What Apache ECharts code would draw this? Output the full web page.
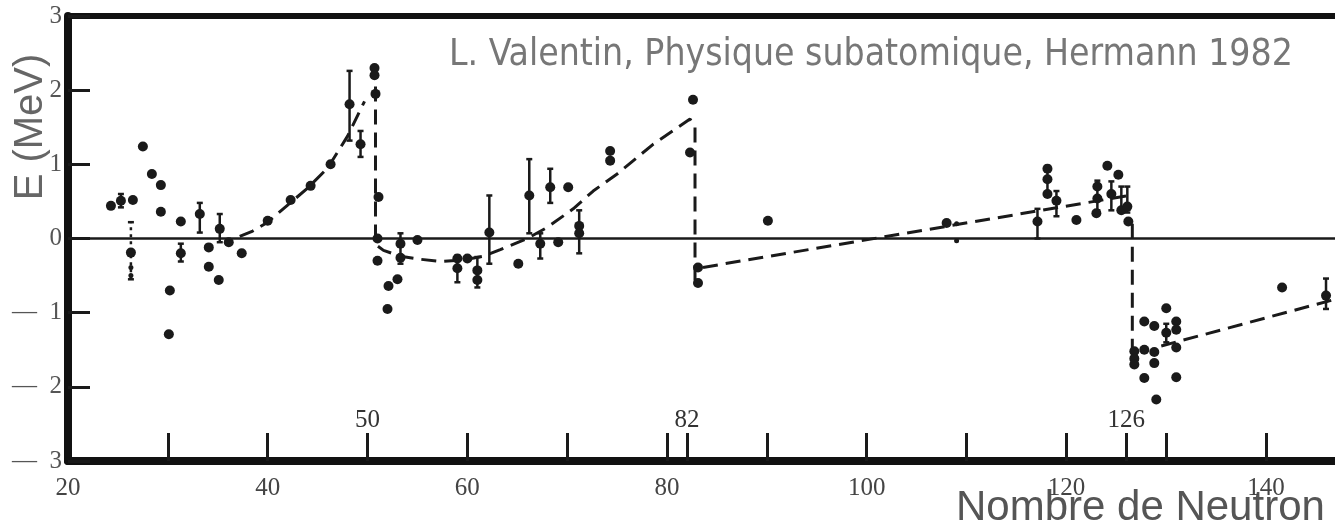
<!DOCTYPE html>
<html><head><meta charset="utf-8">
<script src="https://cdn.jsdelivr.net/npm/echarts@6/dist/echarts.min.js"></script>
<style>html,body{margin:0;padding:0;background:#fff;}#c{width:1335px;height:528px;}</style>
</head><body><div id="c"></div>
<script>
// ---- axis ticks / labels ----
const xTickValues = [30, 40, 50, 60, 70, 80, 82, 90, 100, 110, 120, 126, 130, 140];
const xLabelValues = [20, 40, 60, 80, 100, 120, 140];
const magicLabelValues = [50, 82, 126];
const yTickValues = [-3, -2, -1, 0, 1, 2, 3];

// ---- measured points [N, E (MeV)] ----
const points = [
  [24.3,0.44],[25.3,0.51],[26.5,0.52],[26.3,-0.19],[27.5,1.24],[28.4,0.87],[29.3,0.72],[29.3,0.36],
  [30.2,-0.70],[30.1,-1.29],[31.3,0.23],[31.3,-0.2],[33.2,0.33],[34.1,-0.12],[34.1,-0.38],[35.1,-0.56],
  [35.2,0.13],[36.1,-0.05],[37.4,-0.2],[40,0.24],[42.3,0.52],[44.3,0.71],[46.3,1.0],[48.2,1.81],
  [49.3,1.27],[50.7,2.3],[50.7,2.2],[50.8,1.95],[51.1,0.56],[51,0],[51,-0.3],[53,-0.55],[52.1,-0.64],
  [52,-0.95],[53.3,-0.07],[53.3,-0.26],[55,-0.02],[59,-0.27],[59,-0.4],[60,-0.27],[61,-0.43],[61,-0.56],
  [62.2,0.08],[65.1,-0.34],[66.2,0.58],[67.3,-0.07],[68.3,0.69],[70.1,0.69],[69.1,-0.05],[71.2,0.17],
  [71.2,0.07],[74.3,1.18],[74.3,1.05],[82.6,1.87],[82.3,1.16],[83.1,-0.39],[83.1,-0.6],[90.1,0.24],
  [108,0.21],[117.1,0.23],[118.1,0.94],[118.1,0.8],[118.1,0.6],[119,0.51],[121,0.25],[124.1,0.98],
  [125.2,0.86],[123.1,0.7],[123.1,0.54],[123,0.34],[124.5,0.6],[125.5,0.38],[126.1,0.43],[126.2,0.23],
  [126.8,-1.52],[126.8,-1.62],[126.8,-1.7],[127.8,-1.12],[128.8,-1.18],[127.8,-1.5],[128.8,-1.53],
  [128.8,-1.68],[127.8,-1.88],[129,-2.17],[130,-0.94],[130,-1.27],[131,-1.12],[131,-1.23],[131,-1.47],
  [131,-1.87],[141.6,-0.66],[146,-0.77]
];
const smallPoints = [[26.3,-0.39],[26.3,-0.5],[109,0.2],[109,-0.03]];

// ---- error bars [N, low, high] ----
const errorBars = [
  [25.3,0.42,0.6],[31.3,-0.31,-0.07],[33.2,0.08,0.48],[35.2,-0.05,0.33],[48.2,1.32,2.26],[49.3,1.1,1.45],
  [53.3,-0.34,0.07],[59,-0.59,-0.23],[61,-0.66,-0.25],[62.2,-0.34,0.58],[66.2,0.07,1.07],[67.3,-0.27,0.07],
  [68.3,0.48,0.94],[71.2,-0.2,0.38],[117.1,0,0.4],[118.1,0.58,0.98],[119,0.3,0.64],[123.1,0.38,0.78],
  [124.5,0.38,0.77],[125.5,0.35,0.7],[126.1,0.35,0.7],[126.8,-1.72,-1.5],[130,-1.4,-1.15],[146,-0.95,-0.54]
];
const dottedBars = [[26.3,-0.55,0.22]];

// ---- dashed trend segments [N, E] ----
const trendA = [[37.2,0.03],[38.5,0.1],[40,0.22],[42,0.45],[44,0.68],[46,0.95],[48,1.38],[49.7,1.85]];
const trendB = [[50.8,2.05],[50.8,-0.08],[51.6,-0.16],[53.3,-0.24],[55.3,-0.28],[57.3,-0.31],[59.6,-0.29],
  [61.6,-0.24],[63.3,-0.15],[66,0],[68,0.15],[70.6,0.4],[72.6,0.64],[75,0.87],[78.6,1.27],[82.3,1.61],
  [82.8,1.5],[82.8,-0.62]];
const trendC = [[83.6,-0.39],[126.3,0.58]];
const trendD = [[126.6,0.2],[126.6,-1.62]];
const trendE = [[129.5,-1.45],[146.9,-0.82]];

const INK = '#1a1a1a';
const X_MIN = 20, X_MAX = 146.9;

function barRenderer(dash) {
  return function (params, api) {
    const x = api.value(0), lo = api.value(1), hi = api.value(2);
    const p1 = api.coord([x, lo]), p2 = api.coord([x, hi]);
    const cap = 3;
    const st = { stroke: INK, lineWidth: 2.5, lineDash: dash };
    return { type: 'group', children: [
      { type: 'line', shape: { x1: p1[0], y1: p1[1], x2: p2[0], y2: p2[1] }, style: st },
      { type: 'line', shape: { x1: p1[0]-cap, y1: p1[1], x2: p1[0]+cap, y2: p1[1] }, style: { stroke: INK, lineWidth: 2.5 } },
      { type: 'line', shape: { x1: p2[0]-cap, y1: p2[1], x2: p2[0]+cap, y2: p2[1] }, style: { stroke: INK, lineWidth: 2.5 } }
    ]};
  };
}

function trendSeries(data) {
  return { type: 'line', data: data, symbol: 'none', silent: true, z: 2,
    lineStyle: { color: INK, width: 3, type: [15, 8] }, animation: false };
}

const chart = echarts.init(document.getElementById('c'), null, { renderer: 'canvas' });
chart.setOption({
  animation: false,
  backgroundColor: '#ffffff',
  grid: { left: 68, right: 0, top: 16, bottom: 67 },
  xAxis: [
    { type: 'value', min: X_MIN, max: X_MAX, position: 'bottom',
      axisLine: { onZero: false, lineStyle: { color: '#111', width: 8 } },
      axisTick: { show: true, inside: true, length: 28, customValues: xTickValues, lineStyle: { color: INK, width: 3 } },
      axisLabel: { customValues: xLabelValues, fontFamily: 'Liberation Serif', fontSize: 25, color: '#444', margin: 15 },
      splitLine: { show: false } },
    { type: 'value', min: X_MIN, max: X_MAX, position: 'top',
      axisLine: { onZero: false, lineStyle: { color: '#111', width: 6 } },
      axisTick: { show: false }, axisLabel: { show: false }, splitLine: { show: false } },
    { type: 'value', min: X_MIN, max: X_MAX, position: 'bottom',
      axisLine: { show: false, onZero: false }, axisTick: { show: false }, splitLine: { show: false },
      axisLabel: { inside: true, customValues: magicLabelValues, fontFamily: 'Liberation Serif', fontSize: 25, color: '#333', margin: 28 } }
  ],
  yAxis: {
    type: 'value', min: -3, max: 3, interval: 1,
    axisLine: { onZero: false, lineStyle: { color: '#111', width: 8 } },
    axisTick: { inside: true, length: 22, customValues: yTickValues, lineStyle: { color: INK, width: 3 } },
    axisLabel: { fontFamily: 'Liberation Serif', fontSize: 25, color: '#555', margin: 6,
      formatter: v => v < 0 ? '\u2014  ' + (-v) : String(v) },
    splitLine: { show: false }
  },
  series: [
    trendSeries(trendA), trendSeries(trendB), trendSeries(trendC), trendSeries(trendD), trendSeries(trendE),
    { type: 'custom', renderItem: barRenderer(null), data: errorBars, encode: { x: 0, y: [1, 2] }, z: 3, silent: true },
    { type: 'custom', renderItem: barRenderer([3, 4]), data: dottedBars, encode: { x: 0, y: [1, 2] }, z: 3, silent: true },
    { type: 'scatter', data: points, symbolSize: 10, itemStyle: { color: INK, opacity: 1 }, z: 4, silent: true,
      markLine: { silent: true, symbol: 'none', label: { show: false },
        lineStyle: { color: INK, width: 2.5, type: 'solid' }, data: [{ yAxis: 0 }] } },
    { type: 'scatter', data: smallPoints, symbolSize: 5, itemStyle: { color: INK, opacity: 1 }, z: 4, silent: true }
  ],
  graphic: [
    { type: 'text', x: 31, y: 127, rotation: Math.PI / 2,
      style: { text: 'E (MeV)', font: '40px "Liberation Sans"', fill: '#666', align: 'center', verticalAlign: 'middle' } },
    { type: 'text', x: 449, y: 55,
      style: { text: 'L. Valentin, Physique subatomique, Hermann 1982', font: '37px "DejaVu Sans Condensed", "Liberation Sans Narrow", "DejaVu Sans"', fill: '#777', align: 'left', verticalAlign: 'middle' } },
    { type: 'text', x: 956, y: 508,
      style: { text: 'Nombre de Neutron', font: '42px "Liberation Sans"', fill: '#555', align: 'left', verticalAlign: 'middle' } }
  ]
});
</script></body></html>
